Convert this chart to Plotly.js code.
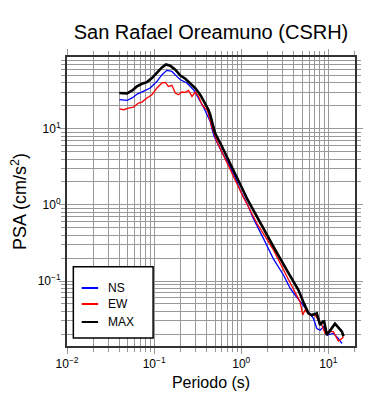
<!DOCTYPE html>
<html>
<head>
<meta charset="utf-8">
<script src="https://cdn.plot.ly/plotly-3.0.1.min.js"></script>
<style>html,body{margin:0;padding:0;background:#fff;}</style>
</head>
<body>
<div id="chart" style="width:390px;height:400px;"></div>
<script>
// ---- data ----
const chartTitle = 'San Rafael Oreamuno (CSRH)';
const seriesNames = ['NS', 'EW', 'MAX'];
const seriesColors = ['#0000ff', '#ff0000', '#000000'];

const periodNS = [0.040, 0.049, 0.056, 0.064, 0.075, 0.090, 0.108, 0.123, 0.140, 0.160, 0.182, 0.200, 0.238, 0.283, 0.310, 0.340, 0.370, 0.400, 0.440, 0.460, 0.489, 0.600, 0.713, 0.850, 0.970, 1.20, 1.38, 1.80, 2.34, 3.05, 3.64, 4.15, 4.95, 5.90, 6.73, 7.36, 8.04, 8.77, 9.60, 11.4, 13.0, 14.3];
const psaNS    = [24.1, 23.6, 25.4, 28.6, 31.0, 34.3, 42.0, 51.4, 58.5, 56.7, 48.8, 44.1, 40.0, 32.6, 27.5, 23.0, 19.0, 15.8, 12.5, 10.0, 7.9, 4.9, 3.5, 2.3, 1.57, 0.97, 0.66, 0.36, 0.195, 0.12, 0.080, 0.0655, 0.051, 0.0395, 0.0323, 0.0238, 0.0226, 0.025, 0.0195, 0.0205, 0.0176, 0.0151];

const periodEW = [0.040, 0.0446, 0.0508, 0.058, 0.066, 0.0725, 0.0827, 0.0944, 0.1076, 0.1228, 0.134, 0.146, 0.160, 0.175, 0.190, 0.208, 0.228, 0.248, 0.272, 0.296, 0.323, 0.353, 0.386, 0.410, 0.430, 0.460, 0.525, 0.600, 0.713, 0.850, 1.06, 1.51, 2.34, 3.50, 4.15, 4.74, 5.08, 5.40, 6.17, 7.05, 7.69, 8.40, 9.16, 10.0, 11.4, 13.0, 14.3, 14.9];
const psaEW    = [18.3, 17.8, 18.7, 19.3, 21.8, 22.4, 25.4, 28.0, 34.3, 40.0, 40.7, 36.0, 37.2, 29.5, 28.0, 30.4, 30.1, 31.9, 26.6, 30.4, 26.6, 21.0, 18.5, 17.5, 14.0, 10.5, 6.8, 4.9, 3.3, 2.1, 1.25, 0.574, 0.256, 0.103, 0.072, 0.053, 0.0357, 0.0415, 0.0357, 0.0357, 0.0307, 0.0264, 0.0205, 0.0216, 0.0216, 0.0163, 0.0176, 0.0185];

const periodMAX = [0.0398, 0.0488, 0.0556, 0.0635, 0.0725, 0.0827, 0.0944, 0.1076, 0.1228, 0.137, 0.153, 0.175, 0.200, 0.228, 0.260, 0.296, 0.338, 0.386, 0.420, 0.440, 0.460, 0.500, 0.600, 0.713, 0.850, 1.016, 1.16, 1.51, 2.34, 3.50, 4.35, 4.53, 5.16, 5.90, 6.46, 7.36, 8.04, 8.60, 8.93, 9.60, 11.9, 14.3, 14.9];
const psaMAX    = [29.5, 29.2, 31.6, 36.0, 39.0, 41.0, 46.4, 54.0, 64.0, 70.0, 67.5, 59.7, 50.0, 45.5, 40.0, 34.3, 28.0, 21.0, 17.8, 15.3, 12.5, 8.8, 5.85, 3.95, 2.6, 1.68, 1.22, 0.70, 0.283, 0.126, 0.084, 0.076, 0.053, 0.0376, 0.0357, 0.0376, 0.0264, 0.0292, 0.0295, 0.0195, 0.0275, 0.0216, 0.0187];

const xTickVals = [0.01, 0.1, 1, 10];
const xTickText = ['10<sup>\u22122</sup>', '10<sup>\u22121</sup>', '10<sup>0</sup>', '10<sup>1</sup>'];
const yTickVals = [0.1, 1, 10];
const yTickText = ['10<sup>\u22121</sup>', '10<sup>0</sup>', '10<sup>1</sup>'];

// ---- chart ----
const FONT = 'Liberation Sans, Arial, Helvetica, sans-serif';
const periods = [periodNS, periodEW, periodMAX];
const values = [psaNS, psaEW, psaMAX];
const widths = [1.3, 1.3, 2.6];

const traces = seriesNames.map((n, i) => ({
  type: 'scatter', mode: 'lines', name: n,
  x: periods[i], y: values[i],
  line: {color: seriesColors[i], width: widths[i]},
  showlegend: false, hoverinfo: 'skip'
}));

function axisBase() {
  return {
    type: 'log',
    tickmode: 'array',
    ticks: 'outside', ticklen: 6, tickwidth: 1, tickcolor: '#999',
    showline: true, linecolor: '#333', linewidth: 2, mirror: 'allticks',
    showgrid: true, gridcolor: '#999', gridwidth: 1,
    zeroline: false,
    tickfont: {size: 12, color: '#000', family: FONT},
    minor: {dtick: 'D1', ticks: 'outside', ticklen: 4, tickwidth: 1, tickcolor: '#999',
            showgrid: true, gridcolor: '#999', gridwidth: 1}
  };
}

const xaxis = Object.assign(axisBase(), {
  range: [-2, Math.log10(20.2)],
  tickvals: xTickVals, ticktext: xTickText,
  title: {text: 'Periodo (s)', font: {size: 16, color: '#000', family: FONT}, standoff: 6}
});
const yaxis = Object.assign(axisBase(), {
  range: [Math.log10(0.014), Math.log10(87.7)],
  tickvals: yTickVals, ticktext: yTickText,
  ticklabelstandoff: -4,
  title: {text: 'PSA (cm/s<sup>2</sup>)', font: {size: 18, color: '#000', family: FONT}, standoff: 6}
});

// legend box drawn in paper coordinates
const legX0 = 0.022, legX1 = 0.299, legY0 = 0.028, legY1 = 0.274;
const legRowY = [0.2007, 0.1453, 0.083];
const shapes = [{
  type: 'rect', xref: 'paper', yref: 'paper', x0: legX0, x1: legX1, y0: legY0, y1: legY1,
  line: {color: '#000', width: 1.5}, fillcolor: '#fff', layer: 'above'
}];
const annotations = [];
seriesNames.forEach((n, i) => {
  shapes.push({type: 'line', xref: 'paper', yref: 'paper', x0: 0.051, x1: 0.108,
    y0: legRowY[i], y1: legRowY[i], line: {color: seriesColors[i], width: 2}, layer: 'above'});
  annotations.push({xref: 'paper', yref: 'paper', x: 0.135, y: legRowY[i], text: n,
    showarrow: false, xanchor: 'left', yanchor: 'middle',
    font: {size: 12, color: '#000', family: FONT}});
});

const layout = {
  width: 390, height: 400,
  margin: {l: 67, r: 35, t: 57, b: 54, pad: 0},
  paper_bgcolor: '#fff', plot_bgcolor: '#fff',
  font: {family: FONT, color: '#000'},
  title: {text: chartTitle, font: {size: 20, color: '#000', family: FONT},
          x: 0.5, xref: 'paper', y: 1 - 32 / 400, yanchor: 'middle'},
  xaxis: xaxis, yaxis: yaxis,
  shapes: shapes, annotations: annotations,
  showlegend: false
};

Plotly.newPlot('chart', traces, layout, {staticPlot: true, displayModeBar: false});
</script>
</body>
</html>
